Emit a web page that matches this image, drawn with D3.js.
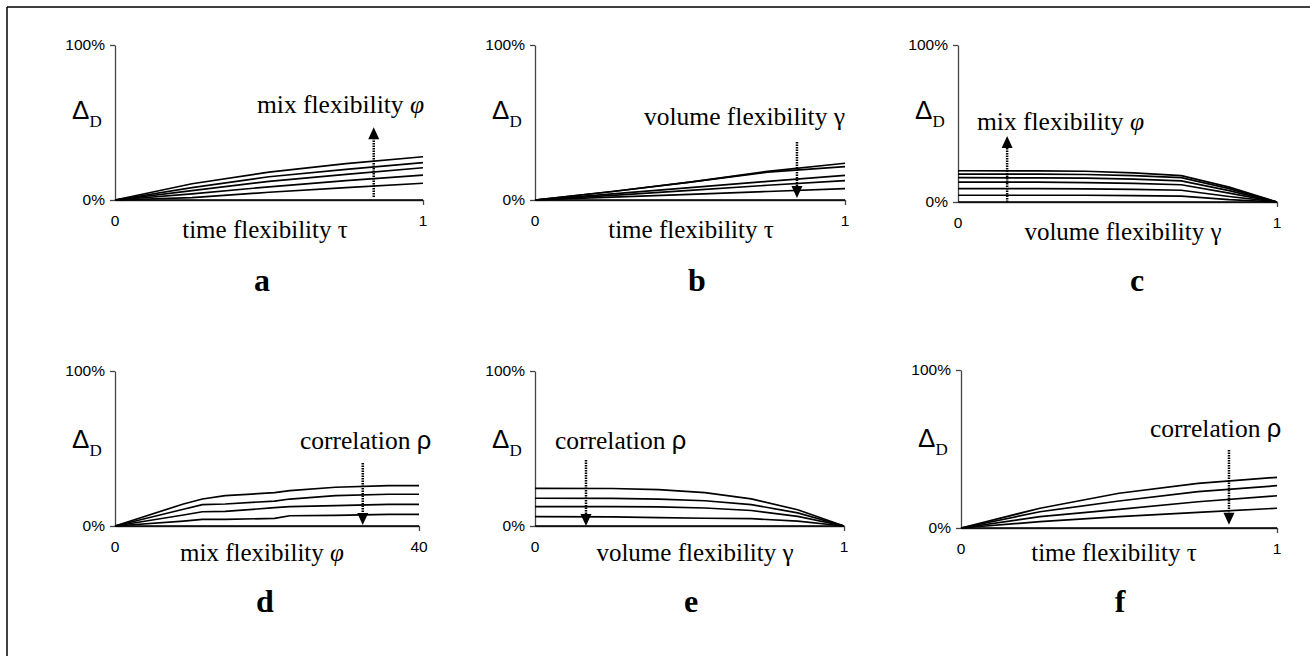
<!DOCTYPE html>
<html><head><meta charset="utf-8">
<script src="https://cdn.jsdelivr.net/npm/d3@7"></script>
<style>
html,body{margin:0;padding:0;background:#fff;}
svg{display:block;}
</style></head>
<body>
<svg id="chart" width="1310" height="656"></svg>
<script>
// ---------------- data ----------------
const panelLetters = ["a", "b", "c", "d", "e", "f"];
const yTickLabels = ["0%", "100%"];
const xTickLabels = [["0", "1"], ["0", "1"], ["0", "1"], ["0", "40"], ["0", "1"], ["0", "1"]];
const xDomains = [[0, 1], [0, 1], [0, 1], [0, 40], [0, 1], [0, 1]];

// panel a: Δ_D vs time flexibility, lines for mix flexibility
const xA = [0, 0.25, 0.5, 0.75, 1];
const seriesA = [
  [0, 0.105, 0.180, 0.235, 0.279],
  [0, 0.080, 0.150, 0.198, 0.241],
  [0, 0.060, 0.120, 0.165, 0.208],
  [0, 0.040, 0.085, 0.125, 0.161],
  [0, 0.015, 0.050, 0.080, 0.108],
  [0, 0, 0, 0, 0]
];
// panel b: Δ_D vs time flexibility, lines for volume flexibility
const xB = [0, 0.25, 0.5, 0.75, 1];
const seriesB = [
  [0, 0.055, 0.115, 0.185, 0.237],
  [0, 0.055, 0.115, 0.180, 0.215],
  [0, 0.040, 0.080, 0.120, 0.159],
  [0, 0.030, 0.062, 0.095, 0.125],
  [0, 0.018, 0.036, 0.055, 0.073],
  [0, 0, 0, 0, 0]
];
// panel c: Δ_D vs volume flexibility, lines for mix flexibility
const xC = [0, 0.25, 0.4, 0.55, 0.7, 0.85, 1];
const seriesC = [
  [0.199, 0.198, 0.196, 0.185, 0.168, 0.095, 0],
  [0.178, 0.177, 0.175, 0.168, 0.155, 0.085, 0],
  [0.155, 0.154, 0.152, 0.146, 0.135, 0.072, 0],
  [0.127, 0.126, 0.124, 0.119, 0.110, 0.056, 0],
  [0.085, 0.085, 0.084, 0.081, 0.075, 0.035, 0],
  [0.043, 0.043, 0.043, 0.041, 0.038, 0.015, 0],
  [0, 0, 0, 0, 0, 0, 0]
];
// panel d: Δ_D vs mix flexibility, lines for correlation
const xD = [0, 9, 11.5, 14.5, 21, 23, 29, 36, 40];
const seriesD = [
  [0, 0.142, 0.174, 0.196, 0.215, 0.228, 0.250, 0.260, 0.260],
  [0, 0.108, 0.138, 0.142, 0.161, 0.174, 0.196, 0.205, 0.205],
  [0, 0.071, 0.092, 0.094, 0.118, 0.125, 0.131, 0.140, 0.140],
  [0, 0.032, 0.043, 0.043, 0.049, 0.066, 0.069, 0.075, 0.075],
  [0, 0, 0, 0, 0, 0, 0, 0, 0]
];
// panel e: Δ_D vs volume flexibility, lines for correlation
const xE = [0, 0.25, 0.4, 0.55, 0.7, 0.85, 1];
const seriesE = [
  [0.243, 0.242, 0.235, 0.215, 0.175, 0.105, 0],
  [0.179, 0.178, 0.174, 0.163, 0.138, 0.085, 0],
  [0.125, 0.125, 0.123, 0.116, 0.100, 0.062, 0],
  [0.060, 0.059, 0.054, 0.050, 0.047, 0.032, 0],
  [0, 0, 0, 0, 0, 0, 0]
];
// panel f: Δ_D vs time flexibility, lines for correlation
const xF = [0, 0.25, 0.5, 0.75, 1];
const seriesF = [
  [0, 0.125, 0.220, 0.283, 0.321],
  [0, 0.103, 0.171, 0.230, 0.268],
  [0, 0.072, 0.118, 0.166, 0.204],
  [0, 0.040, 0.072, 0.099, 0.125],
  [0, 0, 0, 0, 0]
];

const xValues = [xA, xB, xC, xD, xE, xF];
const seriesValues = [seriesA, seriesB, seriesC, seriesD, seriesE, seriesF];

// axis titles and annotations: [text, symbol]
const xTitles = [["time flexibility ", "τ"], ["time flexibility ", "τ"], ["volume flexibility ", "γ"],
                 ["mix flexibility ", "φ"], ["volume flexibility ", "γ"], ["time flexibility ", "τ"]];
const annotations = [["mix flexibility ", "φ"], ["volume flexibility ", "γ"], ["mix flexibility ", "φ"],
                     ["correlation ", "ρ"], ["correlation ", "ρ"], ["correlation ", "ρ"]];
// arrows in data units: x, from (y), to (y)
const arrowX = [0.84, 0.845, 0.154, 32.6, 0.165, 0.848];
const arrowFrom = [0.02, 0.374, 0.0, 0.406, 0.426, 0.494];
const arrowTo = [0.47, 0.013, 0.42, 0.006, 0.0, 0.02];

// ---------------- layout ----------------
const layout = [
  {x0: 115, x1: 423, yT: 45, yB: 200, ann: [257, 113], lx: 262, ly: 291, tx: 265, ty: 238},
  {x0: 535, x1: 845, yT: 45, yB: 200, ann: [644, 125], lx: 697, ly: 291, tx: 691, ty: 238},
  {x0: 958, x1: 1277, yT: 45, yB: 202, ann: [977, 130], lx: 1137, ly: 291, tx: 1123, ty: 240},
  {x0: 115, x1: 419, yT: 371, yB: 526, ann: [300, 449], lx: 265, ly: 612, tx: 262, ty: 561},
  {x0: 535, x1: 844, yT: 371, yB: 526, ann: [555, 449], lx: 691, ly: 612, tx: 695, ty: 561},
  {x0: 961, x1: 1277, yT: 370, yB: 528, ann: [1150, 437], lx: 1120, ly: 612, tx: 1114, ty: 561}
];

const svg = d3.select("#chart");
// frame (top & left edges)
svg.append("line").attr("x1", 7).attr("y1", 7).attr("x2", 1310).attr("y2", 7)
  .attr("stroke", "#000").attr("stroke-width", 1.5);
svg.append("line").attr("x1", 7).attr("y1", 7).attr("x2", 7).attr("y2", 656)
  .attr("stroke", "#000").attr("stroke-width", 1.5);

const serif = "'Liberation Serif','Times New Roman',Times,serif";
const sans = "'Liberation Sans',Arial,Helvetica,sans-serif";

layout.forEach((L, i) => {
  const g = svg.append("g");
  const x = d3.scaleLinear().domain(xDomains[i]).range([L.x0, L.x1]);
  const y = d3.scaleLinear().domain([0, 1]).range([L.yB, L.yT]);

  // y axis
  const ya = d3.axisLeft(y).tickValues([0, 1]).tickSize(5).tickSizeOuter(0)
    .tickPadding(5).tickFormat((d, k) => yTickLabels[k]);
  const yg = g.append("g").attr("transform", `translate(${L.x0},0)`).call(ya);
  yg.select(".domain").attr("stroke", "#444").attr("stroke-width", 1.3);
  yg.selectAll(".tick line").attr("stroke", "#444").attr("stroke-width", 1.3);
  yg.selectAll("text").attr("font-family", sans).attr("font-size", 15.5).attr("fill", "#000");

  // x axis
  const xa = d3.axisBottom(x).tickValues([xDomains[i][1]]).tickSize(5).tickSizeOuter(0).tickFormat("");
  const xg = g.append("g").attr("transform", `translate(0,${L.yB})`).call(xa);
  xg.select(".domain").attr("stroke", "#444").attr("stroke-width", 1.3);
  xg.selectAll(".tick line").attr("stroke", "#444").attr("stroke-width", 1.3);
  xDomains[i].forEach((d, k) => {
    g.append("text").attr("x", x(d)).attr("y", L.yB + 26)
      .attr("text-anchor", "middle").attr("font-family", sans).attr("font-size", 15.5)
      .text(xTickLabels[i][k]);
  });

  // series lines
  const line = d3.line().x((d, k) => x(xValues[i][k])).y(d => y(d));
  seriesValues[i].forEach(s => {
    g.append("path").attr("d", line(s)).attr("fill", "none")
      .attr("stroke", "#000").attr("stroke-width", 1.7).attr("stroke-linejoin", "round");
  });

  // Δ_D label
  const dl = g.append("text").attr("x", L.x0 - 43).attr("y", L.yT + 74 + (i >= 3 ? 3 : 0));
  dl.append("tspan").attr("font-family", sans).attr("font-size", 26).text("Δ");
  dl.append("tspan").attr("font-family", serif).attr("font-size", 17).attr("dy", 8).text("D");

  const symStyle = (t, sym) => {
    if (sym === "φ") t.attr("font-style", "italic").attr("font-family", serif);
    else if (sym === "ρ") t.attr("font-family", sans);
    else t.attr("font-family", serif);
    return t;
  };
  // x title
  const xt = g.append("text").attr("x", L.tx).attr("y", L.ty).attr("text-anchor", "middle")
    .attr("font-family", serif).attr("font-size", 25);
  xt.append("tspan").text(xTitles[i][0]);
  symStyle(xt.append("tspan"), xTitles[i][1]).text(xTitles[i][1]);

  // annotation
  const at = g.append("text").attr("x", L.ann[0]).attr("y", L.ann[1])
    .attr("font-family", serif).attr("font-size", 25.5);
  at.append("tspan").text(annotations[i][0]);
  symStyle(at.append("tspan"), annotations[i][1]).text(annotations[i][1]);

  // arrow
  const ax = x(arrowX[i]), yFrom = y(arrowFrom[i]), yTo = y(arrowTo[i]);
  const dir = yTo < yFrom ? -1 : 1; // -1 up
  const headH = 12, headW = 5.5;
  g.append("line").attr("x1", ax).attr("x2", ax).attr("y1", yFrom).attr("y2", yTo - dir * headH)
    .attr("stroke", "#000").attr("stroke-width", 2.5).attr("stroke-dasharray", "1.5,1");
  g.append("path").attr("d",
    `M${ax},${yTo} L${ax - headW},${yTo - dir * headH} L${ax + headW},${yTo - dir * headH} Z`)
    .attr("fill", "#000");

  // panel letter
  g.append("text").attr("x", L.lx).attr("y", L.ly).attr("text-anchor", "middle")
    .attr("font-family", serif).attr("font-weight", "bold").attr("font-size", 32)
    .text(panelLetters[i]);
});
</script>
</body></html>
